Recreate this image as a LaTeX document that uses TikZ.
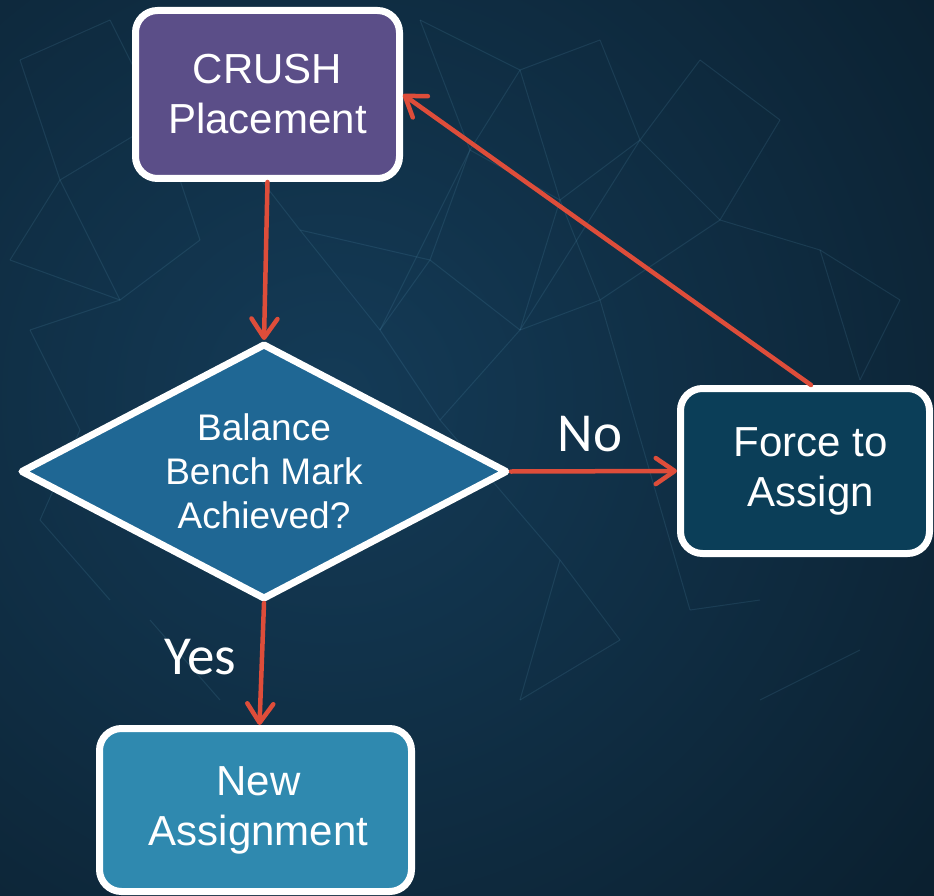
\documentclass[tikz,border=0pt]{standalone}
\usepackage{fontspec}
\setmainfont{Liberation Sans}
\newfontfamily\labelfont{Carlito}
\usetikzlibrary{arrows.meta,shapes.geometric,shadows}

\definecolor{bgdark}{HTML}{081824}
\definecolor{bgmid}{HTML}{143B57}
\definecolor{netline}{HTML}{6FB6D6}
\definecolor{crushfill}{HTML}{5B4E88}
\definecolor{decfill}{HTML}{1F6794}
\definecolor{forcefill}{HTML}{0B3E58}
\definecolor{newfill}{HTML}{2F89AF}
\definecolor{arrowred}{HTML}{DE4D3A}

\tikzset{
  flowbox/.style={draw=white, line width=7pt, rounded corners=22pt,
    text=white, align=center, inner sep=0pt,
    font=\fontsize{42}{50}\selectfont,
    drop shadow={opacity=0.35, shadow xshift=2pt, shadow yshift=-3pt}},
  decision/.style={draw=white, line width=7pt, line join=round,
    shape=diamond, shape aspect=1.9, text=white, align=center, inner sep=0pt,
    font=\fontsize{37}{44}\selectfont,
    drop shadow={opacity=0.35, shadow xshift=2pt, shadow yshift=-3pt}},
  conn/.style={draw=arrowred, line width=4.5pt, line cap=round,
    -{Straight Barb[length=19pt, width=26pt, line cap=round, line join=round]}},
  answer/.style={text=white, font=\labelfont\fontsize{55}{60}\selectfont, inner sep=0pt},
  net/.style={draw=netline, line width=1pt, opacity=0.13},
}

\begin{document}
\begin{tikzpicture}[x=1pt, y=-1pt]
  \useasboundingbox (0,0) rectangle (934,896);

  % backdrop: dark navy with a lighter glow left of centre
  \fill[bgdark] (0,0) rectangle (934,896);
  \begin{scope}
    \clip (0,0) rectangle (934,896);
    \shade[inner color=bgmid, outer color=bgdark] (330,400) circle (1000);
  \end{scope}

  % faint network mesh in the backdrop
  \foreach \xa/\ya/\xb/\yb in {
    20/60/110/20, 110/20/160/120, 20/60/60/180, 60/180/160/120,
    60/180/10/260, 10/260/120/300, 120/300/60/180, 120/300/200/240,
    200/240/160/120, 30/330/120/300, 30/330/80/430, 420/20/520/70,
    520/70/470/150, 470/150/420/20, 470/150/560/200, 560/200/520/70,
    560/200/640/140, 640/140/600/40, 600/40/520/70, 700/60/640/140,
    700/60/780/120, 780/120/720/220, 720/220/640/140, 430/260/470/150,
    430/260/520/330, 520/330/560/200, 520/330/600/300, 600/300/560/200,
    600/300/720/220, 380/330/430/260, 380/330/440/420, 440/420/520/330,
    300/230/380/330, 300/230/430/260, 560/560/620/640, 620/640/520/700,
    520/700/560/560, 690/610/760/600, 150/620/220/700, 760/700/860/650,
    820/250/900/300, 900/300/860/380, 860/380/820/250, 40/520/110/600,
    150/180/230/140, 230/140/300/230, 470/150/380/330, 640/140/520/330,
    720/220/820/250, 440/420/560/560, 600/300/690/610, 80/430/40/520}
    \draw[net] (\xa,\ya) -- (\xb,\yb);

  % flowchart nodes
  \node[flowbox, fill=crushfill, minimum width=264pt, minimum height=168pt]
    (crush) at (267.5,94.5) {CRUSH\\Placement};
  \node[decision, fill=decfill, minimum width=487pt, minimum height=256pt]
    (dec) at (264,471.5) {Balance\\Bench Mark\\Achieved?};
  \node[flowbox, fill=forcefill, minimum width=249pt, minimum height=165pt]
    (force) at (805,471) {\hspace*{12pt}Force to\\\hspace*{12pt}Assign};
  \node[flowbox, fill=newfill, minimum width=312pt, minimum height=163pt]
    (new) at (255.5,810) {\hspace*{6pt}New\\\hspace*{6pt}Assignment};

  % connectors
  \draw[conn] (crush.south) -- (dec.north);
  \draw[conn] (dec.south) -- ([xshift=4pt]new.north);
  \draw[conn] (dec.east) -- (force.west);
  \draw[conn] ([xshift=6pt]force.north) -- (crush.east);

  % branch labels
  \node[answer, anchor=base] (nolabel) at (590,451) {No};
  \node[answer, anchor=base] (yeslabel) at (200,674) {Yes};
\end{tikzpicture}
\end{document}
